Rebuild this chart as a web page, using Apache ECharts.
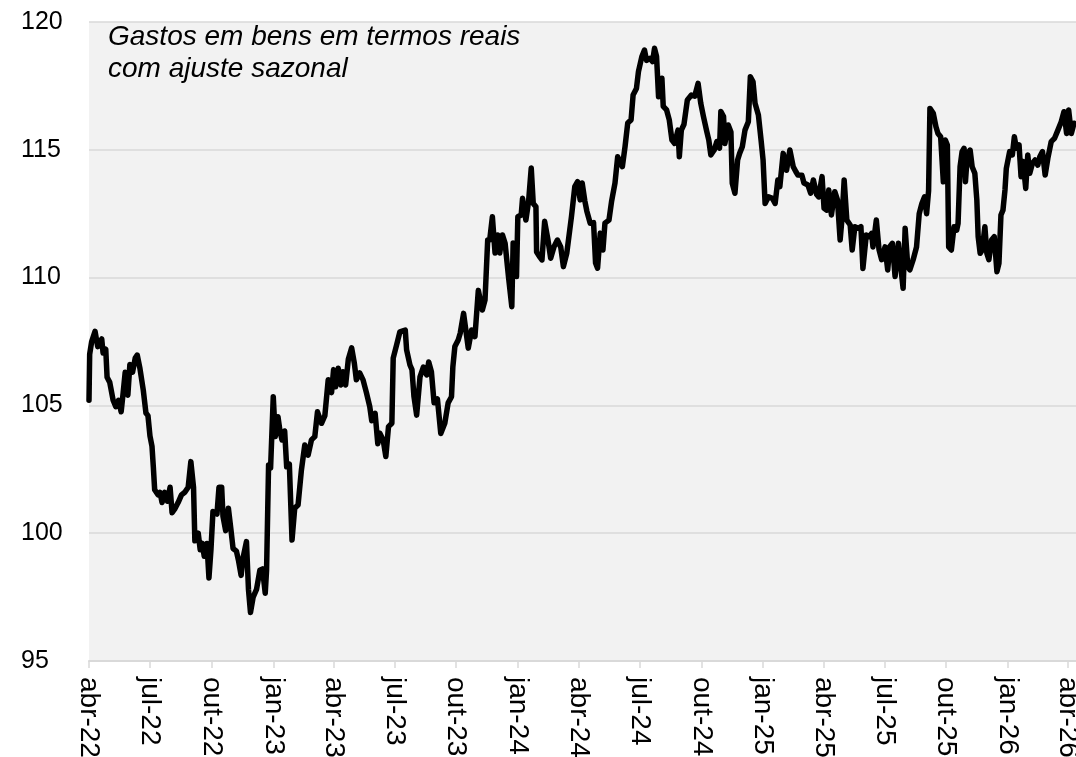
<!DOCTYPE html>
<html>
<head>
<meta charset="utf-8">
<script src="https://cdn.jsdelivr.net/npm/echarts@6/dist/echarts.min.js"></script>
<style>
  html, body { margin: 0; padding: 0; background: #ffffff; }
  #main { width: 1076px; height: 757px; }
</style>
</head>
<body>
<div id="main"></div>
<script>
// dias contados a partir de 01/04/2022
const inicio = Date.UTC(2022, 3, 1);
const DIA = 86400000;
const dias = [
  0, 1, 4, 9, 13, 19, 21, 25, 27, 31, 36, 40, 44, 48, 51, 54, 58, 61, 65, 69,
  72, 76, 81, 85, 88, 91, 94, 96, 98, 103, 106, 109, 113, 117, 121, 124, 128, 133, 138, 143,
  148, 152, 156, 158, 163, 166, 169, 172, 176, 179, 182, 185, 191, 194, 198, 200, 204, 208, 212, 215,
  220, 223, 227, 230, 235, 238, 241, 245, 250, 255, 259, 263, 265, 268, 271, 275, 278, 282, 285, 288,
  292, 295, 299, 303, 307, 312, 317, 322, 327, 332, 337, 341, 347, 352, 357, 362, 365, 368, 372, 376,
  379, 383, 387, 392, 396, 399, 404, 409, 414, 419, 422, 427, 431, 434, 439, 443, 447, 452, 454, 459,
  464, 472, 474, 479, 482, 485, 489, 494, 499, 504, 507, 511, 515, 520, 525, 531, 536, 541, 543, 546,
  551, 554, 559, 562, 566, 571, 576, 581, 587, 591, 595, 598, 602, 606, 610, 613, 617, 621, 626, 631,
  633, 638, 640, 645, 647, 652, 656, 660, 663, 667, 668, 673, 676, 680, 685, 689, 694, 699, 704, 708,
  713, 720, 725, 729, 733, 736, 740, 743, 748, 753, 756, 759, 763, 767, 770, 776, 780, 785, 789, 792,
  796, 800, 804, 809, 812, 817, 820, 825, 829, 832, 837, 841, 844, 847, 850, 855, 857, 862, 866, 870,
  874, 879, 881, 884, 888, 893, 899, 904, 909, 913, 917, 922, 925, 928, 933, 937, 941, 943, 947, 949,
  954, 958, 960, 964, 968, 971, 975, 979, 984, 987, 991, 994, 999, 1003, 1006, 1009, 1014, 1020, 1024, 1028,
  1031, 1036, 1041, 1046, 1051, 1055, 1058, 1064, 1067, 1073, 1077, 1081, 1086, 1089, 1094, 1097, 1101, 1104, 1108, 1113,
  1117, 1121, 1124, 1127, 1131, 1136, 1139, 1143, 1148, 1152, 1155, 1160, 1164, 1168, 1170, 1175, 1179, 1183, 1188, 1192,
  1195, 1199, 1203, 1208, 1212, 1215, 1218, 1222, 1225, 1230, 1235, 1239, 1243, 1247, 1250, 1253, 1255, 1260, 1264, 1267,
  1271, 1275, 1278, 1281, 1283, 1287, 1291, 1295, 1297, 1300, 1303, 1306, 1308, 1311, 1315, 1318, 1322, 1325, 1327, 1330,
  1333, 1337, 1340, 1343, 1347, 1351, 1355, 1358, 1361, 1364, 1367, 1369, 1374, 1378, 1381, 1384, 1388, 1391, 1394, 1398,
  1401, 1404, 1408, 1412, 1416, 1419, 1423, 1427, 1431, 1436, 1441, 1446, 1451, 1455, 1459, 1462, 1466, 1470
];
const valores = [
  105.2, 107.0, 107.5, 107.9, 107.3, 107.6, 107.05, 107.2, 106.1, 105.9, 105.2, 104.95, 105.2, 104.75, 105.5, 106.3, 105.4, 106.6, 106.3, 106.85,
  106.97, 106.45, 105.6, 104.7, 104.6, 103.8, 103.4, 102.6, 101.7, 101.5, 101.6, 101.2, 101.6, 101.25, 101.8, 100.8, 100.95, 101.2, 101.5, 101.6,
  101.8, 102.8, 101.8, 99.7, 100.0, 99.35, 99.6, 99.1, 99.6, 98.25, 99.35, 100.85, 100.75, 101.8, 101.8, 100.65, 100.1, 100.98, 100.1, 99.4,
  99.3, 98.95, 98.35, 99.05, 99.67, 97.8, 96.9, 97.5, 97.8, 98.55, 98.6, 97.65, 98.55, 102.67, 102.55, 105.34, 103.78, 104.56, 104.0, 103.65,
  104.0, 102.6, 102.7, 99.73, 100.98, 101.1, 102.47, 103.45, 103.05, 103.65, 103.78, 104.75, 104.3, 104.6, 106.0, 105.5, 106.4, 105.73, 106.45, 105.8,
  106.32, 105.8, 106.8, 107.25, 106.65, 106.0, 106.27, 106.0, 105.5, 104.95, 104.4, 104.69, 103.5, 103.91, 103.65, 103.0, 104.17, 104.3, 106.85, 107.36,
  107.88, 107.95, 107.17, 106.58, 106.4, 105.34, 104.62, 106.12, 106.5, 106.19, 106.7, 106.32, 105.1, 105.25, 103.9, 104.3, 105.1, 105.34, 106.5, 107.3,
  107.56, 107.82, 108.6, 108.02, 107.24, 107.95, 107.69, 109.5, 108.73, 109.12, 111.47, 111.47, 112.38, 110.96, 111.67, 110.96, 111.67, 111.34, 110.04, 108.86,
  111.35, 110.04, 112.38, 112.45, 113.1, 112.25, 112.97, 114.29, 112.9, 112.77, 111.0, 110.8, 110.69, 112.2, 111.47, 110.76, 111.21, 111.47, 111.2, 110.43,
  110.95, 112.38, 113.56, 113.75, 113.04, 113.7, 113.0, 112.6, 112.13, 112.15, 110.57, 110.37, 111.74, 111.08, 112.13, 112.25, 113.0, 113.7, 114.73, 114.54,
  114.34, 115.12, 116.05, 116.17, 117.14, 117.4, 118.06, 118.64, 118.9, 118.5, 118.58, 118.45, 118.97, 118.65, 117.08, 117.8, 116.7, 116.56, 116.17, 115.38,
  115.25, 115.77, 114.73, 115.77, 116.0, 116.95, 117.14, 117.1, 117.6, 116.82, 116.3, 115.71, 115.38, 114.8, 114.99, 115.32, 115.06, 116.5, 116.3, 115.25,
  115.97, 115.7, 113.69, 113.3, 114.6, 114.86, 115.12, 115.77, 116.1, 117.86, 117.66, 116.82, 116.36, 115.38, 114.6, 112.9, 113.16, 113.1, 112.9, 113.82,
  113.56, 114.86, 114.2, 114.99, 114.34, 114.14, 114.01, 114.0, 113.7, 113.62, 113.3, 113.82, 113.25, 113.16, 113.95, 112.71, 112.64, 113.43, 112.45, 113.36,
  113.04, 111.47, 112.38, 113.82, 112.25, 112.06, 111.08, 111.99, 111.93, 111.99, 110.36, 111.67, 111.6, 111.73, 111.2, 112.25, 111.1, 110.7, 111.2, 110.3,
  111.21, 111.34, 110.04, 111.34, 110.3, 109.58, 111.93, 110.43, 110.3, 110.7, 111.2, 112.5, 112.9, 113.16, 112.5, 113.4, 116.62, 116.43, 115.9, 115.64,
  115.51, 113.75, 115.38, 115.19, 111.2, 111.08, 111.99, 111.86, 112.12, 114.34, 114.93, 115.06, 113.75, 114.86, 114.99, 114.34, 114.08, 113.04, 111.6, 110.95,
  111.08, 111.99, 110.95, 110.7, 111.47, 111.6, 110.23, 110.56, 112.45, 112.64, 113.43, 114.27, 114.93, 114.8, 115.51, 115.06, 115.19, 113.95, 114.54, 113.49,
  114.8, 114.08, 114.47, 114.6, 114.4, 114.73, 114.93, 114.01, 114.67, 115.32, 115.45, 115.77, 116.1, 116.49, 115.64, 116.56, 115.64, 116.04
];
// marcas trimestrais do eixo x
const trimestres = [
  '2022-04-01', '2022-07-01', '2022-10-01', '2023-01-01', '2023-04-01', '2023-07-01',
  '2023-10-01', '2024-01-01', '2024-04-01', '2024-07-01', '2024-10-01', '2025-01-01',
  '2025-04-01', '2025-07-01', '2025-10-01', '2026-01-01', '2026-04-01'
];
const meses = ['jan', 'fev', 'mar', 'abr', 'mai', 'jun', 'jul', 'ago', 'set', 'out', 'nov', 'dez'];
const titulo = 'Gastos em bens em termos reais\ncom ajuste sazonal';

const fonte = '"Liberation Sans", Arial, sans-serif';
// posição das marcas em dias desde o início
const marcasX = trimestres.map((s) => Math.round((Date.parse(s) - inicio) / DIA));
const serie = dias.map((d, i) => [d, valores[i]]);

const myChart = echarts.init(document.getElementById('main'));
const options = {
  animation: false,
  title: {
    text: titulo,
    left: 108,
    top: 21,
    padding: 0,
    textStyle: {
      fontFamily: fonte,
      fontStyle: 'italic',
      fontWeight: 'normal',
      fontSize: 28,
      lineHeight: 32,
      color: '#000000',
    },
  },
  grid: {
    left: 89,
    right: 0,
    top: 22,
    bottom: 96,
    outerBoundsMode: 'none',
    containLabel: false,
    show: true,
    backgroundColor: '#f2f2f2',
    borderWidth: 0,
  },
  xAxis: {
    type: 'value',
    min: 0,
    max: 1473,
    splitLine: { show: false },
    axisLine: {
      show: true,
      lineStyle: { color: '#d9d9d9', width: 2 },
    },
    axisTick: {
      show: true,
      customValues: marcasX,
      length: 7,
      lineStyle: { color: '#d9d9d9', width: 1.5 },
    },
    axisLabel: {
      customValues: marcasX,
      rotate: -90,
      margin: 16,
      color: '#000000',
      fontFamily: fonte,
      fontSize: 28,
      formatter(value) {
        const d = new Date(inicio + value * DIA);
        return meses[d.getUTCMonth()] + '-' + String(d.getUTCFullYear()).slice(2);
      },
    },
  },
  yAxis: {
    type: 'value',
    min: 95,
    max: 120,
    interval: 5,
    axisLine: { show: false },
    axisTick: { show: false },
    splitLine: {
      show: true,
      lineStyle: { color: '#d9d9d9', width: 1.5 },
    },
    axisLabel: {
      margin: 68,
      align: 'left',
      color: '#000000',
      fontFamily: fonte,
      fontSize: 25,
    },
  },
  series: [
    {
      type: 'line',
      data: serie,
      showSymbol: false,
      symbol: 'none',
      lineStyle: {
        color: '#000000',
        width: 5.5,
        join: 'round',
        cap: 'round',
      },
    },
  ],
};
myChart.setOption(options);
</script>
</body>
</html>
